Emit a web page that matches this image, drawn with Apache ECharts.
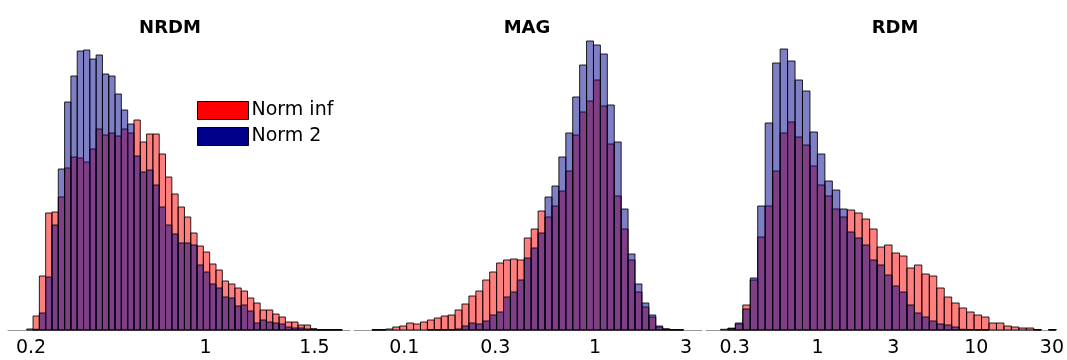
<!DOCTYPE html>
<html>
<head>
<meta charset="utf-8">
<script src="https://cdn.jsdelivr.net/npm/echarts@6/dist/echarts.min.js"></script>
<style>
  html, body { margin: 0; padding: 0; background: #ffffff; }
  #chart { width: 1067px; height: 360px; }
</style>
</head>
<body>
<div id="chart"></div>
<script>
// Panel titles
const panelTitles = ['NRDM', 'MAG', 'RDM'];
const seriesNames = ['Norm inf', 'Norm 2'];

// NRDM histogram: linear bins
const nrdmBinStart = 0.18;
const nrdmBinWidth = 0.02894;
const nrdmNormInf = [1, 14, 54, 117, 118, 133, 162, 173, 172, 168,
  181, 201, 195, 197, 194, 201, 197, 210, 188, 196,
  196, 176, 153, 136, 123, 113, 97, 84, 78, 66,
  60, 49, 46, 42, 39, 32, 27, 20, 20, 16,
  13, 8, 8, 5, 5, 1.3, 0.3, 0.3, 0.3, 0.3];
const nrdmNorm2 = [0, 0.7, 17, 53, 105, 161, 228, 254, 279, 280,
  271, 275, 256, 254, 236, 220, 206, 174, 158, 160,
  145, 123, 105, 96, 87, 87, 85, 65, 58, 46,
  42, 33, 32, 24, 25, 19, 7, 10, 8, 7,
  6, 3, 2, 2, 1, 0.7, 0.3, 0.3, 0.3, 0.3];
const nrdmTickValues = [0.2, 1, 1.5];
const nrdmTickLabels = ['0.2', '1', '1.5'];

// MAG histogram: bins of equal width in log10
const magLogBinStart = -1.1694;
const magLogBinWidth = 0.03629;
const magNormInf = [0.3, 0.3, 1, 3, 4, 7, 6, 8, 10, 12,
  14, 15, 20, 26, 34, 39, 50, 58, 67, 70,
  71, 70, 92, 101, 119, 113, 124, 139, 159, 195,
  218, 229, 250, 224, 186, 134, 101, 70, 38, 23,
  13, 3, 1.3, 0.3, 0.3];
const magNorm2 = [0.3, 0.3, 0, 0, 0, 0, 0, 0, 0.3, 0.3,
  0.3, 0.3, 1, 4, 7, 6, 9, 15, 18, 33,
  38, 50, 72, 82, 97, 133, 144, 173, 197, 233,
  265, 289, 285, 276, 225, 188, 121, 76, 46, 27,
  15, 4, 0.3, 0.3, 0.3];
const magTickValues = [0.1, 0.3, 1, 3];
const magTickLabels = ['0.1', '0.3', '1', '3'];

// RDM histogram: bins of equal width in log10
const rdmLogBinStart = -0.6130;
const rdmLogBinWidth = 0.04704;
const rdmNormInf = [0.7, 1.7, 6, 25, 50, 93, 124, 159, 197, 208,
  193, 185, 164, 145, 134, 121, 113, 120, 117, 111,
  101, 83, 85, 77, 74, 62, 65, 56, 54, 42,
  33, 27, 22, 18, 15, 13, 7, 7, 4, 3,
  2, 2, 0.5, 0, 0.5];
const rdmNorm2 = [0, 1.7, 7, 21, 52, 124, 207, 267, 281, 269,
  250, 239, 198, 176, 149, 140, 121, 98, 92, 85,
  70, 65, 55, 44, 38, 25, 17, 13, 9, 6,
  5, 3, 0.7, 0.5, 0.3, 0.3, 0, 0, 0, 0,
  0, 0, 0.3, 0, 0.3];
const rdmTickValues = [0.3, 1, 3, 10, 30];
const rdmTickLabels = ['0.3', '1', '3', '10', '30'];

const FONT = 'DejaVu Sans';
const fillColors = ['rgba(255,0,0,0.5)', 'rgba(0,0,139,0.5)'];
const legendColors = ['#ff0000', '#00008b'];

function makeBins(start, width, counts) {
  return counts.map((c, i) => [start + i * width, start + (i + 1) * width, c]);
}

function renderBar(params, api) {
  const h = api.value(2);
  if (!(h > 0)) return null;
  const p0 = api.coord([api.value(0), 0]);
  const p1 = api.coord([api.value(1), h]);
  return {
    type: 'rect',
    shape: { x: p0[0], y: p1[1], width: p1[0] - p0[0], height: p0[1] - p1[1] },
    style: { fill: api.visual('color'), stroke: 'rgba(0,0,0,0.85)', lineWidth: 1 }
  };
}

// Axis label helpers: log panels use log10 positions on a value axis
function labelAxis(values, labels, isLog) {
  const pos = values.map(v => isLog ? Math.log10(v) : v);
  return {
    customValues: pos,
    formatter: function (val) {
      for (let i = 0; i < pos.length; i++) {
        if (Math.abs(pos[i] - val) < 1e-6) return labels[i];
      }
      return '';
    },
    color: '#000',
    fontFamily: FONT,
    fontSize: 19,
    margin: 9
  };
}

const panels = [
  { left: 8, width: 342, min: 0.094, max: 1.663,
    ticks: [nrdmTickValues, nrdmTickLabels, false],
    data: [makeBins(nrdmBinStart, nrdmBinWidth, nrdmNormInf), makeBins(nrdmBinStart, nrdmBinWidth, nrdmNorm2)],
    titleX: 165 },
  { left: 354, width: 348, min: -1.264, max: 0.561,
    ticks: [magTickValues, magTickLabels, true],
    data: [makeBins(magLogBinStart, magLogBinWidth, magNormInf), makeBins(magLogBinStart, magLogBinWidth, magNorm2)],
    titleX: 522 },
  { left: 706, width: 356, min: -0.704, max: 1.494,
    ticks: [rdmTickValues, rdmTickLabels, true],
    data: [makeBins(rdmLogBinStart, rdmLogBinWidth, rdmNormInf), makeBins(rdmLogBinStart, rdmLogBinWidth, rdmNorm2)],
    titleX: 890 }
];

const grids = [], xAxes = [], yAxes = [], series = [], titles = [];
panels.forEach((p, k) => {
  grids.push({ left: p.left, width: p.width, top: 30, height: 300 });
  xAxes.push({
    gridIndex: k, type: 'value', min: p.min, max: p.max,
    axisLine: { show: true, lineStyle: { color: '#9a9a9a', width: 1 } },
    axisTick: { show: false },
    splitLine: { show: false },
    axisLabel: labelAxis(p.ticks[0], p.ticks[1], p.ticks[2])
  });
  yAxes.push({ gridIndex: k, type: 'value', min: 0, max: 300, show: false });
  titles.push({
    text: panelTitles[k], left: p.titleX, top: 14, textAlign: 'center',
    textStyle: { fontFamily: FONT, fontWeight: 'bold', fontSize: 18, color: '#000' }
  });
  [0, 1].forEach(s => {
    series.push({
      type: 'custom', name: seriesNames[s],
      xAxisIndex: k, yAxisIndex: k,
      coordinateSystem: 'cartesian2d',
      renderItem: renderBar,
      encode: { x: [0, 1], y: 2 },
      itemStyle: { color: fillColors[s] },
      data: p.data[s],
      clip: false,
      silent: true
    });
  });
});

const chart = echarts.init(document.getElementById('chart'), null, { renderer: 'canvas' });
chart.setOption({
  animation: false,
  backgroundColor: '#ffffff',
  title: titles,
  legend: {
    left: 197, top: 101, orient: 'vertical', padding: 0,
    itemWidth: 51, itemHeight: 18, itemGap: 7,
    icon: 'rect', selectedMode: false,
    textStyle: { fontFamily: FONT, fontSize: 19, color: '#000', padding: [0, 0, 0, -2] },
    data: seriesNames.map((n, i) => ({
      name: n,
      itemStyle: { color: legendColors[i], borderColor: '#000', borderWidth: 1, opacity: 1 }
    }))
  },
  grid: grids,
  xAxis: xAxes,
  yAxis: yAxes,
  series: series
});
</script>
</body>
</html>
